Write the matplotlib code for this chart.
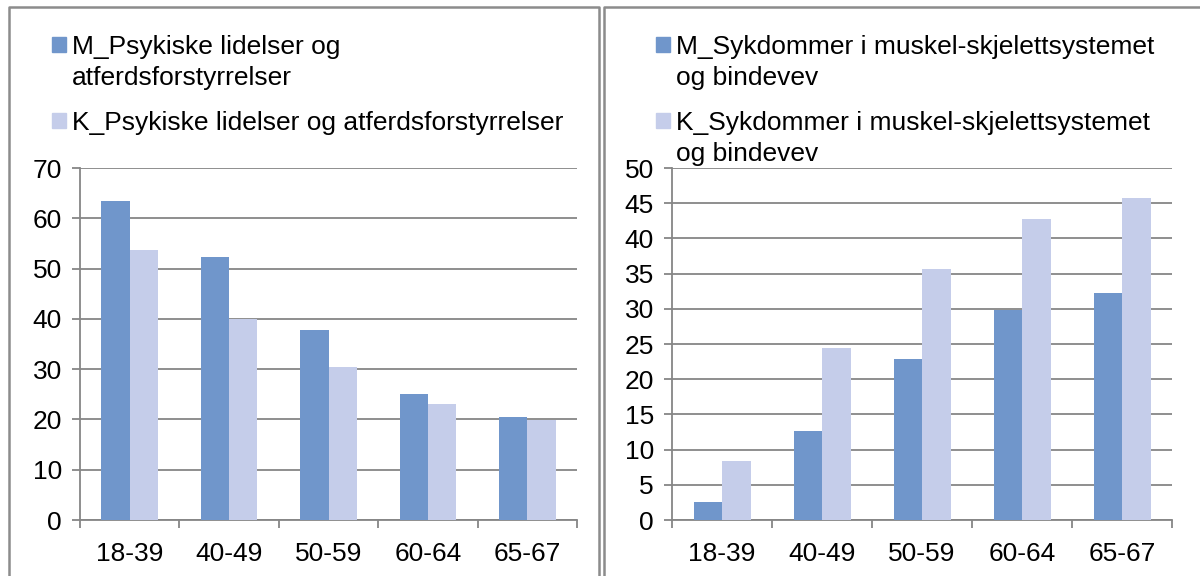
import matplotlib
matplotlib.use('Agg')
import matplotlib.pyplot as plt
import numpy as np
from matplotlib.patches import Rectangle
from matplotlib.lines import Line2D

plt.rcParams['font.family'] = ['Liberation Sans', 'DejaVu Sans']

#====Data====
ages = ['18-39', '40-49', '50-59', '60-64', '65-67']
psyk_m = [63.5, 52.3, 37.7, 25.1, 20.4]
psyk_k = [53.7, 40.0, 30.5, 23.0, 19.8]
musk_m = [2.6, 12.7, 22.9, 29.8, 32.2]
musk_k = [8.4, 24.5, 35.7, 42.7, 45.8]

psyk_labels = ['M_Psykiske lidelser og\natferdsforstyrrelser',
               'K_Psykiske lidelser og atferdsforstyrrelser']
musk_labels = ['M_Sykdommer i muskel-skjelettsystemet\nog bindevev',
               'K_Sykdommer i muskel-skjelettsystemet\nog bindevev']

c_m = '#7096cb'
c_k = '#c5cdea'
grey = '#868686'
W, H = 1200, 576
fs = 19

fig = plt.figure(figsize=(12, 5.76), dpi=100)

def px(x, y):
    # pixel position from top-left -> figure fraction
    return x / W, 1 - y / H

def bar_panel(rect, m, k, ymax, ystep):
    ax = fig.add_axes(rect)
    x = np.arange(len(ages))
    w = 0.285
    ax.bar(x - w / 2, m, w, color=c_m, zorder=3)
    ax.bar(x + w / 2, k, w, color=c_k, zorder=3)
    ax.set_xlim(-0.5, len(ages) - 0.5)
    ax.set_ylim(0, ymax)
    ax.set_yticks(np.arange(0, ymax + 1, ystep))
    ax.set_xticks(x)
    ax.set_xticklabels(ages)
    ax.set_xticks(np.arange(-0.5, len(ages), 1), minor=True)
    ax.tick_params(axis='x', which='major', length=0, pad=16, labelsize=fs)
    ax.tick_params(axis='x', which='minor', length=6, width=1.3, color=grey, direction='out')
    ax.tick_params(axis='y', length=6, width=1.3, color=grey, pad=7, labelsize=fs)
    ax.yaxis.grid(True, color=grey, linewidth=1.3, zorder=0)
    for s in ['top', 'right']:
        ax.spines[s].set_visible(False)
    for s in ['left', 'bottom']:
        ax.spines[s].set_color(grey)
        ax.spines[s].set_linewidth(1.3)
    return ax

bar_panel([80 / W, 56 / H, 497 / W, 352 / H], psyk_m, psyk_k, 70, 10)
bar_panel([672 / W, 56 / H, 500 / W, 352 / H], musk_m, musk_k, 50, 5)

#====Legends====
def legend(x0, labels, rows):
    for lab, col, y in zip(labels, [c_m, c_k], rows):
        fx, fy = px(x0, y + 15)
        fig.add_artist(Rectangle((fx, fy), 14 / W, 15 / H, color=col,
                                 transform=fig.transFigure))
        tx, ty = px(x0 + 20, y - 2)
        fig.text(tx, ty, lab, fontsize=fs, va='top', ha='left',
                 linespacing=1.35)

legend(52, psyk_labels, [37, 113])
legend(656, musk_labels, [37, 113])

#====Panel frames====
for xs, ys in [([9, 9, 599, 599], [580, 7, 7, 580]),
               ([604, 604, 1205], [580, 7, 7])]:
    fig.add_artist(Line2D(np.array(xs) / W, 1 - np.array(ys) / H,
                          color='#8c8c8c', linewidth=1.8,
                          transform=fig.transFigure))

fig.savefig('out.png', dpi=100)
